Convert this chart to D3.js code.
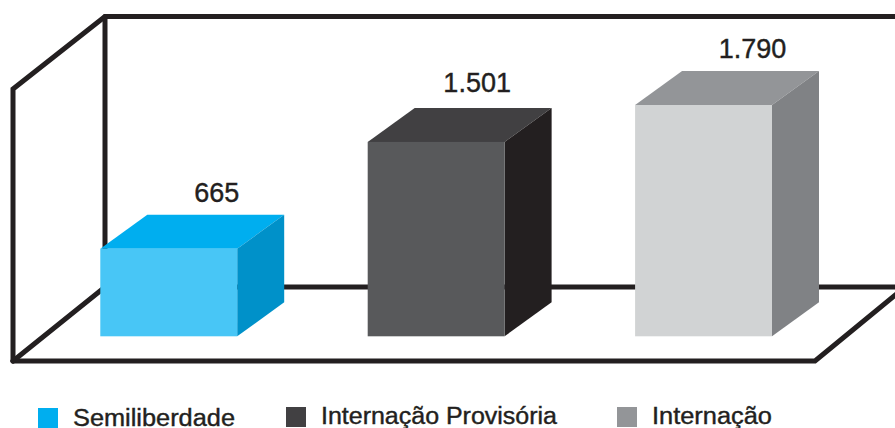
<!DOCTYPE html>
<html><head><meta charset="utf-8">
<style>html,body{margin:0;padding:0;background:#fff;overflow:hidden}svg{display:block}text{font-family:"Liberation Sans",Arial,sans-serif;fill:#231f20;stroke:#231f20;stroke-width:.4px}</style>
<script src="https://cdn.jsdelivr.net/npm/d3@7/dist/d3.min.js"></script>
</head><body><svg id="c" width="895" height="428"></svg>
<script>
const categories = ["Semiliberdade", "Internação Provisória", "Internação"];
const values = [665, 1501, 1790];
const frontColors = ["#48c6f6", "#58595b", "#d1d3d4"];
const topColors = ["#00aeef", "#414042", "#939598"];
const sideColors = ["#0091c9", "#231f20", "#808285"];
const legendColors = ["#00aeef", "#414042", "#939598"];

const W = 895, H = 428, DX = 47, DY = 34, BASE = 336.3;
const labelDx = [49, 42, 50], labelDy = [13, 16, 13.5];
const legendSwatchX = [38, 286, 617], legendSwatchY = [408, 407, 407], legendTextX = [73, 321, 652], legendBaseline = [426, 424, 424];
const legendWidths = [162, 236, 120];

const svg = d3.select("#c");
const x = d3.scaleBand().domain(categories).range([100.3, 772]).paddingInner(0.488).paddingOuter(0);
const y = d3.scaleLinear().domain([0, 1790]).range([333.7, 105]);
const fmt = d3.formatLocale({decimal: ",", thousands: ".", grouping: [3], currency: ["R$", ""]}).format(",d");

const frame = [
  [[13,361],[815,361],[905,287]],
  [[13,361],[105,287],[900,287]],
  [[13,361],[13,89],[105,16.5],[900,16.5]],
  [[105,16.5],[105,287]]
];
svg.append("g").selectAll("path").data(frame).join("path")
  .attr("d", d3.line()).attr("fill","none").attr("stroke","#231f20").attr("stroke-width",5).attr("stroke-linejoin","miter").attr("stroke-linecap","round");

const bars = svg.append("g").selectAll("g").data(categories).join("g");
const poly = pts => d3.line()(pts) + "Z";
bars.append("path").attr("fill",(d,i)=>topColors[i]).attr("d",(d,i)=>{
  const l=x(d), r=l+x.bandwidth(), t=y(values[i]);
  return poly([[l,t],[r,t],[r+DX,t-DY],[l+DX,t-DY]]);
});
bars.append("path").attr("fill",(d,i)=>sideColors[i]).attr("d",(d,i)=>{
  const r=x(d)+x.bandwidth(), t=y(values[i]);
  return poly([[r,t],[r+DX,t-DY],[r+DX,BASE-DY],[r,BASE]]);
});
bars.append("rect").attr("fill",(d,i)=>frontColors[i])
  .attr("x",d=>x(d)).attr("width",x.bandwidth())
  .attr("y",(d,i)=>y(values[i])).attr("height",(d,i)=>BASE-y(values[i]));
bars.append("text").attr("text-anchor","middle").attr("font-size",27)
  .attr("x",(d,i)=>x(d)+x.bandwidth()/2+labelDx[i]-1)
  .attr("y",(d,i)=>y(values[i])-DY-labelDy[i])
  .text((d,i)=>fmt(values[i]));

const leg = svg.append("g").selectAll("g").data(categories).join("g");
leg.append("rect").attr("width",20).attr("height",20)
  .attr("x",(d,i)=>legendSwatchX[i]).attr("y",(d,i)=>legendSwatchY[i]).attr("fill",(d,i)=>legendColors[i]);
leg.append("text").attr("font-size",23)
  .attr("x",(d,i)=>legendTextX[i]).attr("y",(d,i)=>legendBaseline[i])
  .attr("textLength",(d,i)=>legendWidths[i]).attr("lengthAdjust","spacingAndGlyphs")
  .text(d=>d);
</script></body></html>
